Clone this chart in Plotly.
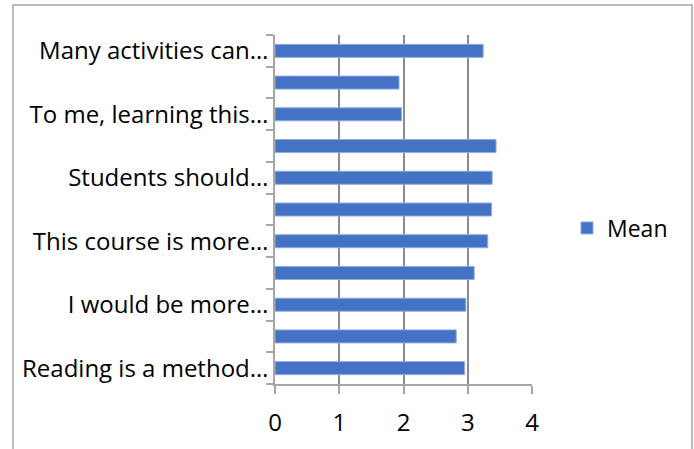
import plotly.graph_objects as go

categories = ["c1", "c2", "c3", "c4", "c5", "c6", "c7", "c8", "c9", "c10", "c11"]
tick_labels = ["Reading is a method…", "", "I would be more…", "", "This course is more…", "",
               "Students should…", "", "To me, learning this…", "", "Many activities can…"]
mean_values = [2.95, 2.82, 2.97, 3.10, 3.31, 3.37, 3.38, 3.44, 1.97, 1.93, 3.24]
x_ticks = [0, 1, 2, 3, 4]

W, H = 694, 449
L, R, T, B = 275, 162, 35, 65
pw, ph = W - L - R, H - T - B

def px_x(p):
    return (p - L) / pw

def px_y(p):
    return (H - B - p) / ph

fig = go.Figure()
fig.add_trace(go.Bar(
    y=categories, x=mean_values, orientation="h", name="Mean",
    marker=dict(color="#4472C4", line=dict(color="#8FAADC", width=1)),
    showlegend=True,
))

fig.update_layout(
    width=W, height=H,
    margin=dict(l=L, r=R, t=T, b=B),
    paper_bgcolor="white", plot_bgcolor="white",
    font=dict(family="Open Sans, sans-serif", size=20, color="#000000"),
    bargap=0.59,
    showlegend=True,
    legend=dict(x=px_x(567), y=px_y(228), xanchor="left", yanchor="middle",
                font=dict(size=23), bgcolor="rgba(0,0,0,0)"),
    xaxis=dict(range=[0, 4], tickvals=x_ticks, showgrid=True, gridcolor="#8C8C8C", gridwidth=1.5,
               zeroline=False, showline=True, linecolor="#A6A6A6", linewidth=1.5,
               ticks="outside", ticklen=8, tickcolor="#A6A6A6", tickwidth=1.5,
               ticklabelstandoff=8,
               tickfont=dict(size=24), fixedrange=True),
    yaxis=dict(type="category", categoryorder="array", categoryarray=categories,
               tickvals=categories, ticktext=tick_labels, tickson="boundaries",
               showgrid=False, showline=True, linecolor="#A6A6A6", linewidth=1.5,
               ticks="outside", ticklen=7, tickcolor="#A6A6A6", tickwidth=1.5,
               tickfont=dict(size=24), range=[-0.5, 10.5], fixedrange=True),
)

fig.add_shape(type="rect", xref="paper", yref="paper",
              x0=px_x(13), x1=px_x(692), y0=px_y(470), y1=px_y(5),
              line=dict(color="#A6A6A6", width=1.5), fillcolor="rgba(0,0,0,0)", layer="below")

fig.write_html("out.html")
